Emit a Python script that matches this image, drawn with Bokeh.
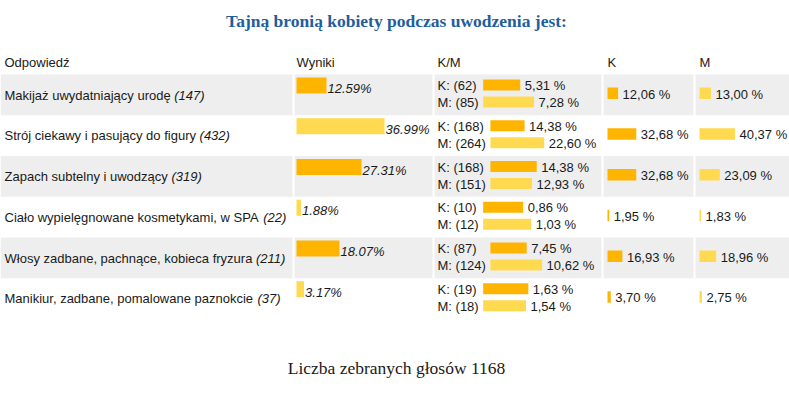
from bokeh.plotting import figure
from bokeh.models import Range1d
from bokeh.core.properties import value
from bokeh.embed import file_html
from bokeh.resources import INLINE

# ---------------- data ----------------
title_text = "Tajną bronią kobiety podczas uwodzenia jest:"
footer_label = "Liczba zebranych głosów"
total_votes = 1168
headers = ["Odpowiedź", "Wyniki", "K/M", "K", "M"]
answers = [
    "Makijaż uwydatniający urodę",
    "Strój ciekawy i pasujący do figury",
    "Zapach subtelny i uwodzący",
    "Ciało wypielęgnowane kosmetykami, w SPA",
    "Włosy zadbane, pachnące, kobieca fryzura",
    "Manikiur, zadbane, pomalowane paznokcie",
]
counts = [147, 432, 319, 22, 211, 37]
results_pct = [12.59, 36.99, 27.31, 1.88, 18.07, 3.17]
k_counts = [62, 168, 168, 10, 87, 19]
m_counts = [85, 264, 151, 12, 124, 18]
k_share_pct = [5.31, 14.38, 14.38, 0.86, 7.45, 1.63]
m_share_pct = [7.28, 22.60, 12.93, 1.03, 10.62, 1.54]
k_pct = [12.06, 32.68, 32.68, 1.95, 16.93, 3.70]
m_pct = [13.00, 40.37, 23.09, 1.83, 18.96, 2.75]

# ---------------- style / layout ----------------
ORANGE = "#FFB400"
YELLOW = "#FFD950"
GRAY = "#EEEEEE"
TXT = "#1a1a1a"
BLUE = "#1F5E9E"
SANS = "Liberation Sans"
SERIF = "Liberation Serif"
FS = 13

W, H = 789, 396
OX, OY = 0, 0


def px(x):
    return x - OX


def py(y):
    return y - OY


# approximate Arial advance widths (1/1000 em)
_AW = {" ": 278, "a": 556, "b": 556, "c": 500, "d": 556, "e": 556, "f": 278, "g": 556,
       "h": 556, "i": 222, "j": 222, "k": 500, "l": 222, "m": 833, "n": 556, "o": 556,
       "p": 556, "q": 556, "r": 333, "s": 500, "t": 278, "u": 556, "v": 500, "w": 722,
       "x": 500, "y": 500, "z": 500, "ą": 556, "ę": 556, "ł": 222, "ż": 500, "ó": 556,
       "ć": 500, "ś": 500, "ń": 556, "ź": 500, "A": 667, "B": 667, "C": 722, "D": 722,
       "E": 667, "F": 611, "G": 778, "H": 722, "I": 278, "J": 500, "K": 667, "L": 556,
       "M": 833, "N": 722, "O": 778, "P": 667, "Q": 778, "R": 722, "S": 667, "T": 611,
       "U": 722, "V": 667, "W": 944, "X": 667, "Y": 667, "Z": 611, "(": 333, ")": 333,
       ",": 278, ".": 278, "%": 889, ":": 278}


def tw(s, size=FS):
    return sum(_AW.get(ch, 556) for ch in s) * size / 1000.0


ROW_TOP0 = 74.0
ROW_H = 40.75
COL_X = [4, 296, 437, 607, 699]
SEPS = [293, 433, 602, 694]
WYN_SCALE = 2.38
KM_SCALE = 88.0
KCOL_SCALE = 0.88

p = figure(width=W, height=H, x_range=Range1d(0, W), y_range=Range1d(H, 0),
           output_backend="svg", toolbar_location=None, min_border=0,
           x_axis_type=None, y_axis_type=None)
p.grid.visible = False
p.outline_line_color = None
p.background_fill_color = "white"
p.border_fill_color = "white"

n = len(answers)
tops = [ROW_TOP0 + i * ROW_H for i in range(n)]

# row backgrounds
g_idx = [i for i in range(n) if i % 2 == 0]
p.quad(left=[0] * len(g_idx), right=[W] * len(g_idx),
       top=[py(tops[i]) for i in g_idx], bottom=[py(tops[i] + ROW_H) for i in g_idx],
       fill_color=GRAY, line_color=None)
# white column separators
p.quad(left=[px(s - 1) for s in SEPS], right=[px(s + 1) for s in SEPS],
       top=[py(ROW_TOP0)] * len(SEPS), bottom=[py(ROW_TOP0 + n * ROW_H)] * len(SEPS),
       fill_color="white", line_color=None)

# title & footer
p.text(x=[px(396)], y=[py(20)], text=[title_text], text_font=value(SERIF),
       text_font_size="17.5px", text_font_style="bold", text_color=BLUE,
       text_align="center", text_baseline="middle")
p.text(x=[px(396)], y=[py(367)], text=[f"{footer_label} {total_votes}"],
       text_font=value(SERIF), text_font_size="17.5px", text_color=TXT,
       text_align="center", text_baseline="middle")

# headers
p.text(x=[px(c) for c in COL_X], y=[py(62)] * len(headers), text=headers,
       text_font=value(SANS), text_font_size=f"{FS}px", text_color=TXT,
       text_baseline="middle")

# answer names and counts
p.text(x=[px(COL_X[0])] * n, y=[py(t + 20.5) for t in tops], text=answers,
       text_font=value(SANS), text_font_size=f"{FS}px", text_color=TXT,
       text_baseline="middle")
p.text(x=[px(COL_X[0] + tw(a + " ")) for a in answers], y=[py(t + 20.5) for t in tops],
       text=[f"({c})" for c in counts], text_font=value(SANS), text_font_size=f"{FS}px",
       text_font_style="italic", text_color=TXT, text_baseline="middle")

# Wyniki bars
wcol = [ORANGE if i % 2 == 0 else YELLOW for i in range(n)]
wl = px(COL_X[1])
wr = [wl + v * WYN_SCALE for v in results_pct]
p.quad(left=[wl] * n, right=wr, top=[py(t + 3) for t in tops],
       bottom=[py(t + 19) for t in tops], fill_color=wcol, line_color=None)
p.text(x=[r + 1 for r in wr], y=[py(t + 14) for t in tops],
       text=[f"{v:.2f}%" for v in results_pct], text_font=value(SANS),
       text_font_size=f"{FS}px", text_font_style="italic", text_color=TXT,
       text_baseline="middle")

# K/M column
klab = [f"K: ({c})" for c in k_counts]
mlab = [f"M: ({c})" for c in m_counts]
p.text(x=[px(COL_X[2])] * n, y=[py(t + 11) for t in tops], text=klab,
       text_font=value(SANS), text_font_size=f"{FS}px", text_color=TXT,
       text_baseline="middle")
p.text(x=[px(COL_X[2])] * n, y=[py(t + 28) for t in tops], text=mlab,
       text_font=value(SANS), text_font_size=f"{FS}px", text_color=TXT,
       text_baseline="middle")
bstart = [px(COL_X[2]) + max(tw(a), tw(b)) + 4.5 for a, b in zip(klab, mlab)]
kw = [KM_SCALE * k / (k + m) for k, m in zip(k_counts, m_counts)]
mw = [KM_SCALE * m / (k + m) for k, m in zip(k_counts, m_counts)]
p.quad(left=bstart, right=[b + w for b, w in zip(bstart, kw)],
       top=[py(t + 5) for t in tops], bottom=[py(t + 16) for t in tops],
       fill_color=ORANGE, line_color=None)
p.quad(left=bstart, right=[b + w for b, w in zip(bstart, mw)],
       top=[py(t + 22) for t in tops], bottom=[py(t + 33) for t in tops],
       fill_color=YELLOW, line_color=None)
fmt = lambda v: f"{v:.2f} %".replace(".", ",")
p.text(x=[b + w + 4.5 for b, w in zip(bstart, kw)], y=[py(t + 11) for t in tops],
       text=[fmt(v) for v in k_share_pct], text_font=value(SANS),
       text_font_size=f"{FS}px", text_color=TXT, text_baseline="middle")
p.text(x=[b + w + 4.5 for b, w in zip(bstart, mw)], y=[py(t + 28) for t in tops],
       text=[fmt(v) for v in m_share_pct], text_font=value(SANS),
       text_font_size=f"{FS}px", text_color=TXT, text_baseline="middle")

# K and M columns
for col, vals, color in ((3, k_pct, ORANGE), (4, m_pct, YELLOW)):
    l = px(COL_X[col])
    r = [l + v * KCOL_SCALE for v in vals]
    p.quad(left=[l] * n, right=r, top=[py(t + 13) for t in tops],
           bottom=[py(t + 24.5) for t in tops], fill_color=color, line_color=None)
    p.text(x=[x + 4.5 for x in r], y=[py(t + 19.5) for t in tops],
           text=[fmt(v) for v in vals], text_font=value(SANS),
           text_font_size=f"{FS}px", text_color=TXT, text_baseline="middle")

open("out.html", "w").write(file_html(p, INLINE))
